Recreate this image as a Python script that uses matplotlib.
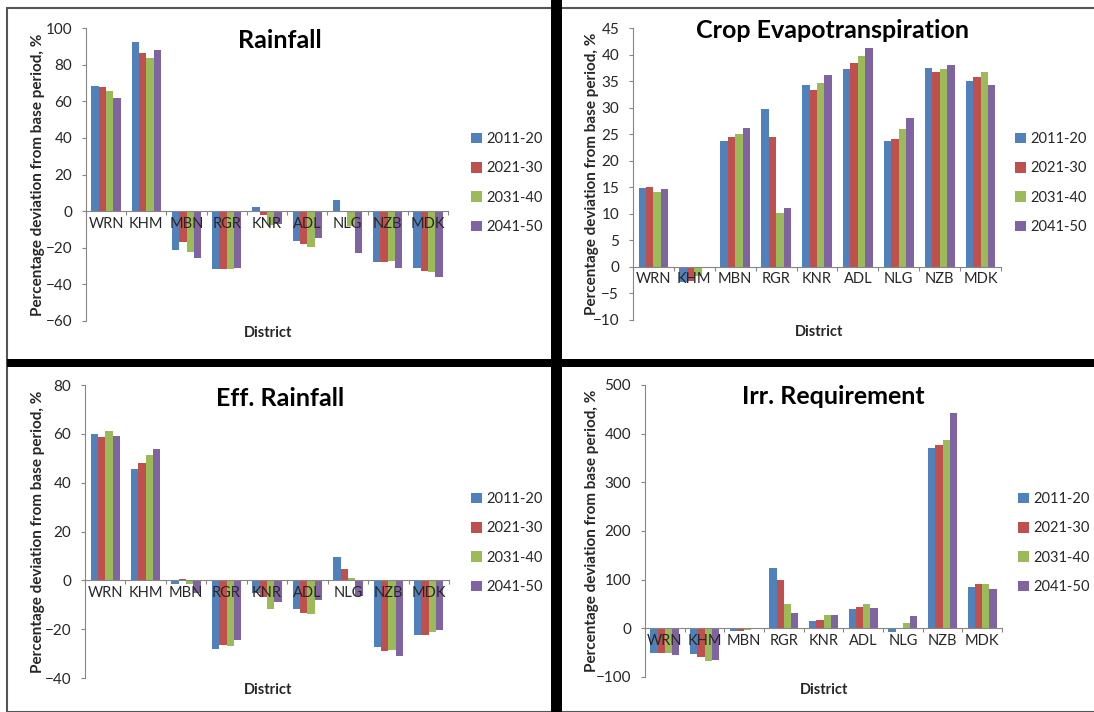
import numpy as np
import matplotlib
matplotlib.use('Agg')
import matplotlib.pyplot as plt
from matplotlib.patches import Patch, Rectangle
from matplotlib.ticker import FixedLocator

plt.rcParams['font.family'] = ['Lato', 'DejaVu Sans']

districts = ['WRN', 'KHM', 'MBN', 'RGR', 'KNR', 'ADL', 'NLG', 'NZB', 'MDK']
periods = ['2011-20', '2021-30', '2031-40', '2041-50']
colors = ['#4F81BD', '#C0504D', '#9BBB59', '#8064A2']

# rows = periods, columns = districts
rainfall = [
    [68.4, 92.4, -21.3, -31.5, 2.2, -16.4, 6.2, -28.0, -31.0],
    [67.8, 86.4, -16.7, -31.8, -2.2, -18.0, 0.0, -28.0, -32.7],
    [65.5, 83.5, -22.5, -31.8, -7.6, -19.5, -8.0, -27.5, -33.5],
    [61.8, 87.8, -25.6, -31.3, -7.1, -14.9, -22.7, -31.0, -35.8],
]
crop_et = [
    [14.8, -2.8, 23.7, 29.7, 34.3, 37.3, 23.7, 37.4, 35.0],
    [15.0, -2.6, 24.4, 24.4, 33.3, 38.5, 24.0, 36.8, 35.8],
    [14.1, -1.8, 25.0, 10.1, 34.7, 39.7, 26.0, 37.3, 36.8],
    [14.7, -0.2, 26.2, 11.1, 36.2, 41.3, 28.0, 38.1, 34.2],
]
eff_rainfall = [
    [60.0, 45.8, -1.4, -28.2, -5.2, -11.7, 9.5, -27.3, -22.2],
    [58.5, 47.9, 0.7, -26.3, -6.8, -13.4, 4.5, -28.8, -22.2],
    [61.3, 51.2, -1.6, -27.0, -11.9, -13.8, 0.8, -28.6, -21.0],
    [59.3, 53.9, -5.3, -24.6, -9.0, -8.2, -6.5, -31.1, -20.5],
]
irr_req = [
    [-50.6, -52.7, -5.5, 123.8, 14.4, 39.7, -7.5, 371.4, 84.1],
    [-50.6, -58.8, -6.2, 99.9, 16.4, 43.8, 0.7, 376.9, 91.7],
    [-50.6, -66.3, -2.7, 49.9, 27.4, 49.9, 11.6, 387.1, 91.7],
    [-55.4, -65.0, 1.4, 30.8, 27.4, 42.4, 24.6, 442.5, 81.4],
]

W, H = 1094, 712
fig = plt.figure(figsize=(W / 100, H / 100), dpi=100)


def fx(x):
    return x / W


def fy(y):
    return 1 - y / H


# panel settings in pixels: axes box, title centre, xlabel centre, ylabel x, legend left/top
panels = [
    dict(title='Rainfall', data=rainfall, ylim=(-60, 100), step=20,
         box=(86, 28, 448, 321), tpos=(280, 41), xl=(268, 333), ylx=38, leg=(471, 183)),
    dict(title='Crop Evapotranspiration', data=crop_et, ylim=(-10, 45), step=5,
         box=(633, 28, 1001, 320), tpos=(832, 31), xl=(819, 332), ylx=592, leg=(1015, 183)),
    dict(title='Eff. Rainfall', data=eff_rainfall, ylim=(-40, 80), step=20,
         box=(85, 385, 449, 678), tpos=(280, 398), xl=(268, 690), ylx=38, leg=(471, 543)),
    dict(title='Irr. Requirement', data=irr_req, ylim=(-100, 500), step=100,
         box=(645, 385, 1002, 677), tpos=(833, 397), xl=(824, 690), ylx=592, leg=(1018, 543)),
]

x = np.arange(len(districts))
bw = 1 / 5.5
axis_col = '#868686'
txt_col = '#262626'

for p in panels:
    x0, y0, x1, y1 = p['box']
    ax = fig.add_axes([fx(x0), fy(y1), fx(x1 - x0), (y1 - y0) / H])
    for i, vals in enumerate(p['data']):
        ax.bar(x + (i - 1.5) * bw, vals, bw, color=colors[i], zorder=1)
    ax.set_xlim(-0.5, len(districts) - 0.5)
    ax.set_ylim(*p['ylim'])
    ax.set_yticks(np.arange(p['ylim'][0], p['ylim'][1] + p['step'] / 2, p['step']))
    ax.spines['top'].set_visible(False)
    ax.spines['right'].set_visible(False)
    ax.spines['left'].set_color(axis_col)
    ax.spines['bottom'].set_color(axis_col)
    ax.spines['bottom'].set_position(('data', 0))
    ax.xaxis.set_major_locator(FixedLocator(np.arange(-0.5, len(districts), 1)))
    ax.xaxis.set_major_formatter(plt.NullFormatter())
    ax.set_xticks(x, minor=True)
    ax.set_xticklabels(districts, minor=True)
    ax.tick_params(axis='x', which='major', direction='out', length=3, color=axis_col)
    ax.tick_params(axis='x', which='minor', length=0, pad=4, labelsize=10.5, labelcolor=txt_col)
    ax.tick_params(axis='y', direction='out', length=3, color=axis_col, pad=7,
                   labelsize=11, labelcolor=txt_col)
    ax.patch.set_visible(False)

    fig.text(fx(p['tpos'][0]), fy(p['tpos'][1]), p['title'], ha='center', va='center',
             fontsize=18, fontweight='bold', color='black')
    fig.text(fx(p['xl'][0]), fy(p['xl'][1]), 'District', ha='center', va='center',
             fontsize=10.5, fontweight='bold', color=txt_col)
    fig.text(fx(p['ylx']), fy((y0 + y1) / 2), 'Percentage deviation from base period, %',
             ha='center', va='center', rotation=90, fontsize=11, fontweight='bold',
             color=txt_col)
    handles = [Patch(facecolor=c, edgecolor='none') for c in colors]
    fig.legend(handles, periods, loc='center left',
               bbox_to_anchor=(fx(p['leg'][0]), fy(p['leg'][1])),
               frameon=False, fontsize=10.5, handlelength=0.75, handleheight=0.75,
               handletextpad=0.3, labelspacing=1.05, borderpad=0, borderaxespad=0,
               labelcolor=txt_col)

# outer frame and thick separators between the four charts
fig.add_artist(Rectangle((fx(7), fy(712)), fx(1094), (712 - 8) / H, transform=fig.transFigure,
                         fill=False, edgecolor='#555555', linewidth=1.5))
fig.add_artist(Rectangle((fx(551), 0), fx(11), 1, transform=fig.transFigure,
                         facecolor='black', edgecolor='none'))
fig.add_artist(Rectangle((fx(7), fy(367)), 1, 8 / H, transform=fig.transFigure,
                         facecolor='black', edgecolor='none'))

fig.savefig('out.png', dpi=100)
